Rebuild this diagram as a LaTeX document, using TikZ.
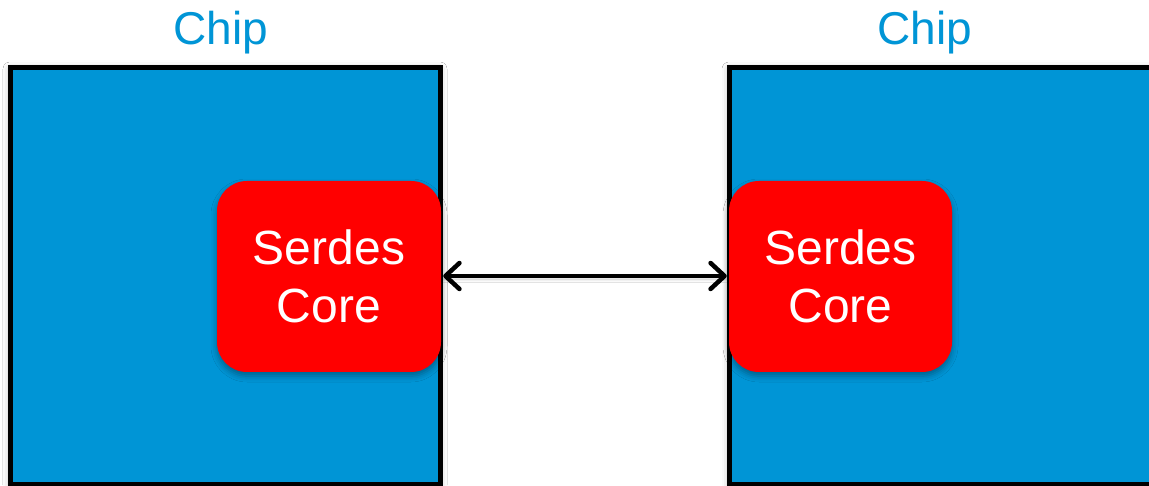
\documentclass[tikz,border=0pt]{standalone}
\usepackage{fontspec}
\setmainfont{Liberation Sans}
\usetikzlibrary{arrows.meta,shadows.blur}
\definecolor{chipblue}{HTML}{0095D6}
\definecolor{serdesred}{HTML}{FF0000}
\tikzset{
  chipbox/.style={draw=black, line width=5pt, fill=chipblue, inner sep=0pt,
    blur shadow={shadow xshift=0pt, shadow yshift=-1pt, shadow blur radius=7pt, shadow opacity=30}},
  chiplabel/.style={text=chipblue, inner sep=0pt, anchor=base, font=\fontsize{46}{55}\selectfont},
  serdesbox/.style={fill=serdesred, rounded corners=30pt, inner sep=0pt, text=white,
    align=center, font=\fontsize{48}{58}\selectfont,
    blur shadow={shadow xshift=0pt, shadow yshift=-4pt, shadow blur radius=6pt, shadow opacity=35}},
  linktip/.style={Straight Barb[length=14pt,width=26pt,line cap=round,line join=round]},
  link/.style={line width=4.5pt, {Straight Barb[length=14pt,width=26pt,line cap=round,line join=round]}-{Straight Barb[length=14pt,width=26pt,line cap=round,line join=round]},
    blur shadow={shadow xshift=0pt, shadow yshift=-3pt, shadow blur radius=3pt, shadow opacity=25}}
}
\begin{document}
\begin{tikzpicture}[x=1pt,y=-1pt]
\useasboundingbox (0,0) rectangle (1149,486);
\clip (0,0) rectangle (1149,486);
\fill[white] (0,0) rectangle (1149,486);
\node[chipbox, minimum width=430pt, minimum height=416pt] (chipL) at (225,276) {};
\node[chipbox, minimum width=431pt, minimum height=416pt] (chipR) at (944.5,276) {};
\node[chiplabel] (labL) at (221,45) {Chip};
\node[chiplabel] (labR) at (925,45) {Chip};
\node[serdesbox, minimum width=224pt, minimum height=191pt] (serL) at (329,276.5) {\raisebox{-2pt}{\parbox{200pt}{\centering Serdes\\Core}}};
\node[serdesbox, minimum width=223pt, minimum height=191pt] (serR) at (840.5,276.5) {\raisebox{-2pt}{\parbox{200pt}{\centering Serdes\\Core}}};
\draw[link] ([xshift=2pt,yshift=0.5pt]serL.east) -- ([xshift=-2pt,yshift=0.5pt]serR.west);
\end{tikzpicture}
\end{document}
